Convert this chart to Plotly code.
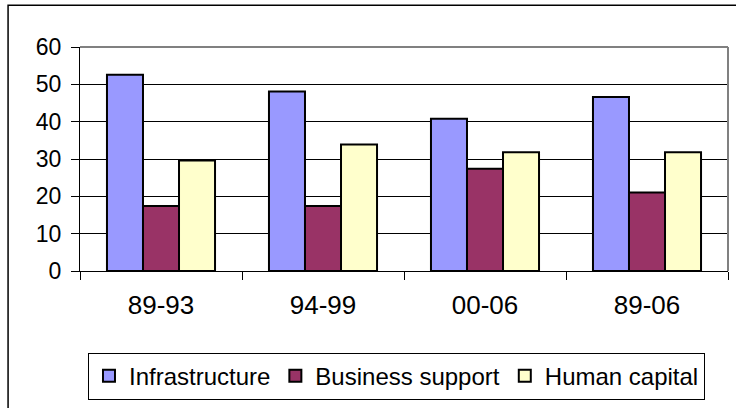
import plotly.graph_objects as go

# Spending shares by period (%)
periods = ["89-93", "94-99", "00-06", "89-06"]
infrastructure = [52.6, 48.1, 40.8, 46.6]
business_support = [17.4, 17.4, 27.4, 21.0]
human_capital = [29.6, 33.9, 31.8, 31.8]

series = [
    ("Infrastructure", infrastructure, "#9999FF"),
    ("Business support", business_support, "#993366"),
    ("Human capital", human_capital, "#FFFFCC"),
]

FONT = "Liberation Sans, Arial, sans-serif"

fig = go.Figure()
for name, values, color in series:
    fig.add_trace(go.Bar(
        name=name, x=periods, y=values,
        marker=dict(color=color, line=dict(color="black", width=2)),
    ))

fig.update_layout(
    width=736, height=408,
    margin=dict(l=80, r=8, t=47, b=135),
    paper_bgcolor="white", plot_bgcolor="white",
    font=dict(family=FONT, color="black"),
    barmode="group", bargap=0.333, bargroupgap=0,
    showlegend=True,
    legend=dict(
        orientation="h", x=0.0123, xanchor="left", y=-0.365, yanchor="top",
        bordercolor="black", borderwidth=1, font=dict(size=24, family=FONT),
        bgcolor="white", itemsizing="constant",
        tracegroupgap=0, itemwidth=30,
    ),
    xaxis=dict(
        type="category",
        showline=True, linecolor="black", linewidth=1,
        ticks="outside", tickson="boundaries", ticklen=8, tickcolor="black",
        tickfont=dict(size=26), ticklabelstandoff=11, showgrid=False,
    ),
    yaxis=dict(
        range=[0, 60], dtick=10, showline=True, linecolor="black", linewidth=1,
        ticks="outside", ticklen=8, tickcolor="black", tickfont=dict(size=23),
        ticklabelstandoff=5, showgrid=True, gridcolor="black", gridwidth=1,
        zeroline=False,
    ),
    shapes=[
        # gray frame on top and right of plotting area
        dict(type="line", xref="paper", yref="paper", x0=0, x1=1, y0=1, y1=1,
             line=dict(color="#808080", width=2)),
        dict(type="line", xref="paper", yref="paper", x0=1, x1=1, y0=0, y1=1,
             line=dict(color="#808080", width=2)),
        # outer chart border
        dict(type="rect", xref="paper", yref="paper", x0=-0.111, x1=1.05,
             y0=-0.7, y1=1.186, line=dict(color="black", width=1.5),
             layer="below"),
    ],
)

fig.write_html("out.html")
